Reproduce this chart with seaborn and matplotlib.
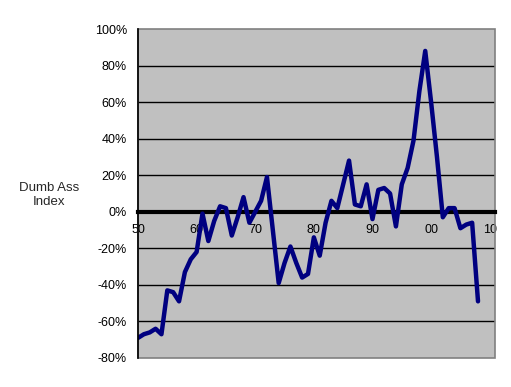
import matplotlib
matplotlib.use("Agg")
import matplotlib.pyplot as plt
import seaborn as sns
from matplotlib.patches import Rectangle
from matplotlib.ticker import PercentFormatter

years = list(range(1950, 2009))
index_pct = [
    -69, -67, -66, -64, -67, -43, -44, -49, -33, -26,   # 1950s
    -22, -1, -16, -5, 3, 2, -13, -3, 8, -6,             # 1960s
    0, 6, 19, -10, -39, -28, -19, -28, -36, -34,        # 1970s
    -14, -24, -6, 6, 2, 15, 28, 4, 3, 15,               # 1980s
    -4, 12, 13, 10, -8, 15, 24, 39, 66, 88,             # 1990s
    60, 30, -3, 2, 2, -9, -7, -6, -49,                  # 2000s
]
x_ticks = [1950, 1960, 1970, 1980, 1990, 2000, 2010]
x_labels = ["50", "60", "70", "80", "90", "00", "10"]
y_ticks = list(range(-80, 101, 20))

sns.set_style("white")
plt.rcParams["font.family"] = ["Liberation Sans", "DejaVu Sans"]
plt.rcParams["axes.unicode_minus"] = False

fig = plt.figure(figsize=(5.11, 3.87), dpi=100)
ax = fig.add_axes([138 / 511, 1 - 358 / 387, 357 / 511, 329 / 387])
ax.set_facecolor("#C0C0C0")

for y in y_ticks[1:-1]:
    ax.axhline(y, color="black", lw=1.0, zorder=1)

sns.lineplot(x=years, y=index_pct, ax=ax, color="#000080", lw=3.2, zorder=4)

ax.set_xlim(1950, 2010.9)
ax.set_ylim(-80, 100)

# border of the plot area
ax.add_patch(Rectangle((0, 0), 1, 1, transform=ax.transAxes, fill=False,
                       edgecolor="#808080", lw=1.2, zorder=2, clip_on=False))
for side in ["top", "right"]:
    ax.spines[side].set_visible(False)
ax.spines["left"].set_color("black")
ax.spines["left"].set_linewidth(1.2)
ax.spines["left"].set_zorder(5)
ax.spines["bottom"].set_position(("data", 0))
ax.spines["bottom"].set_color("black")
ax.spines["bottom"].set_linewidth(3)
ax.spines["bottom"].set_zorder(3)

ax.set_xticks(x_ticks)
ax.set_xticklabels(x_labels)
ax.set_yticks(y_ticks)
ax.yaxis.set_major_formatter(PercentFormatter(decimals=0))
ax.tick_params(axis="x", direction="out", length=3, width=2.5, pad=6,
               labelsize=9, colors="black")
ax.tick_params(axis="y", direction="out", length=4, width=1.2, pad=4,
               labelsize=9, colors="black")
ax.set_xlabel("")
ax.set_ylabel("")

fig.text(49 / 511, 1 - 195 / 387, "Dumb Ass\nIndex", ha="center", va="center",
         fontsize=9.5, linespacing=1.3)

fig.savefig("out.png", dpi=100)
